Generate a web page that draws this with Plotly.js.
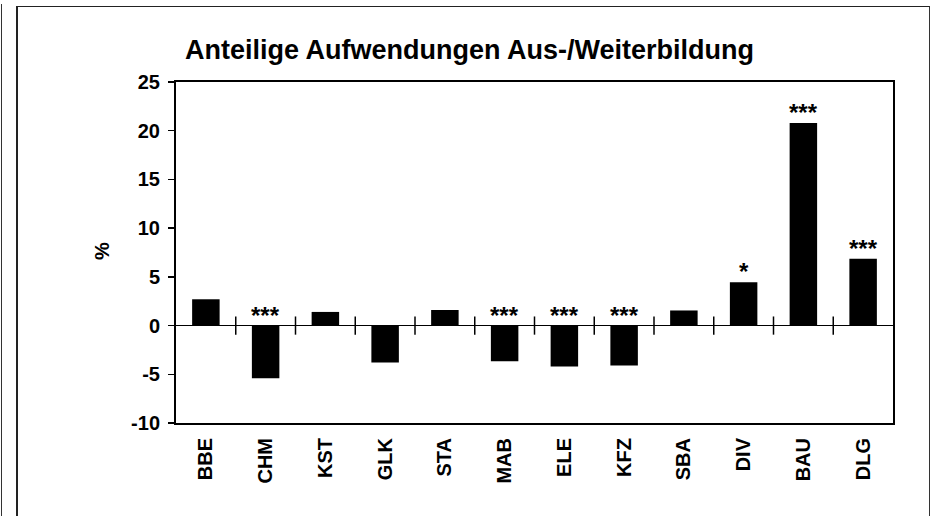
<!DOCTYPE html>
<html>
<head>
<meta charset="utf-8">
<script src="https://cdn.plot.ly/plotly-3.0.1.min.js"></script>
<style>
  html, body { margin: 0; padding: 0; background: #fff; }
  #wrap { position: relative; width: 933px; height: 516px; overflow: hidden; }
  #chart { position: absolute; left: 0; top: 0; width: 933px; height: 516px; }
  .frame { position: absolute; left: 16px; top: 6px; width: 911px; height: 520px;
           border-top: 1px solid #222; border-left: 2px solid #222; border-right: 1px solid #333; }
  .edge { position: absolute; left: 1px; top: 4px; width: 0; height: 520px; border-left: 1px solid #333; }
</style>
</head>
<body>
<div id="wrap">
  <div id="chart"></div>
  <div class="frame"></div>
  <div class="edge"></div>
</div>
<script>
// Data
const categories = ["BBE", "CHM", "KST", "GLK", "STA", "MAB", "ELE", "KFZ", "SBA", "DIV", "BAU", "DLG"];
const values = [2.7, -5.4, 1.4, -3.8, 1.6, -3.65, -4.2, -4.1, 1.55, 4.45, 20.8, 6.85];
const significance = ["", "***", "", "", "", "***", "***", "***", "", "*", "***", "***"];
const yTicks = [-10, -5, 0, 5, 10, 15, 20, 25];
const chartTitle = "Anteilige Aufwendungen Aus-/Weiterbildung";
const yTitle = "%";

const FONT = "Liberation Sans, Arial, sans-serif";
const idx = categories.map((c, i) => i);
const boundaries = categories.slice(1).map((c, i) => i + 0.5);

const bars = {
  type: "bar",
  x: idx,
  y: values,
  width: 0.46,
  marker: { color: "#000000", line: { width: 0 } },
  hoverinfo: "skip",
  showlegend: false
};

const crossTicks = {
  type: "scatter",
  mode: "markers",
  x: boundaries,
  y: boundaries.map(() => 0),
  marker: { symbol: "line-ns", size: 13, color: "#000", line: { width: 1.5, color: "#000" } },
  hoverinfo: "skip",
  showlegend: false,
  cliponaxis: false
};

const starAnnotations = categories.map((c, i) => ({
  x: i,
  y: Math.max(values[i], 0),
  xref: "x",
  yref: "y",
  text: "<b>" + significance[i] + "</b>",
  showarrow: false,
  xanchor: "center",
  yanchor: "bottom",
  yshift: -5,
  font: { family: FONT, size: 24, color: "#000" }
})).filter((a, k) => significance[categories.indexOf(categories[a.x])] !== "");

const layout = {
  width: 933,
  height: 516,
  margin: { l: 176, r: 40, t: 82, b: 93 },
  paper_bgcolor: "#ffffff",
  plot_bgcolor: "#ffffff",
  font: { family: FONT, color: "#000" },
  title: {
    text: "<b>" + chartTitle + "</b>",
    font: { family: FONT, size: 27, color: "#000" },
    x: 469.5 / 933,
    xanchor: "center",
    xref: "container",
    y: 1 - 40 / 516,
    yanchor: "top",
    yref: "container"
  },
  xaxis: {
    range: [-0.5, 11.5],
    tickmode: "array",
    tickvals: idx,
    ticktext: categories.map(c => "<b>" + c + "</b>"),
    tickangle: -90,
    tickfont: { family: FONT, size: 20, color: "#000" },
    ticks: "",
    ticklabelstandoff: 5,
    showgrid: false,
    zeroline: false,
    showline: true,
    linecolor: "#000",
    linewidth: 2,
    mirror: true,
    fixedrange: true
  },
  yaxis: {
    range: [-10, 25],
    tickmode: "array",
    tickvals: yTicks,
    ticktext: yTicks.map(v => "<b>" + v + "</b>"),
    tickfont: { family: FONT, size: 20, color: "#000" },
    ticks: "outside",
    ticklen: 6,
    tickwidth: 1.5,
    tickcolor: "#000",
    ticklabelstandoff: 4,
    showgrid: false,
    zeroline: true,
    zerolinecolor: "#000",
    zerolinewidth: 1.5,
    showline: true,
    linecolor: "#000",
    linewidth: 2,
    mirror: true,
    fixedrange: true
  },
  annotations: starAnnotations.concat([{
    text: "<b>" + yTitle + "</b>",
    xref: "paper",
    yref: "paper",
    x: 0,
    y: 0.5,
    xanchor: "center",
    yanchor: "middle",
    xshift: -74.5,
    yshift: 1,
    textangle: -90,
    showarrow: false,
    font: { family: FONT, size: 20, color: "#000" }
  }]),
  bargap: 0.5
};

Plotly.newPlot("chart", [bars, crossTicks], layout, { staticPlot: true, displayModeBar: false });
</script>
</body>
</html>
